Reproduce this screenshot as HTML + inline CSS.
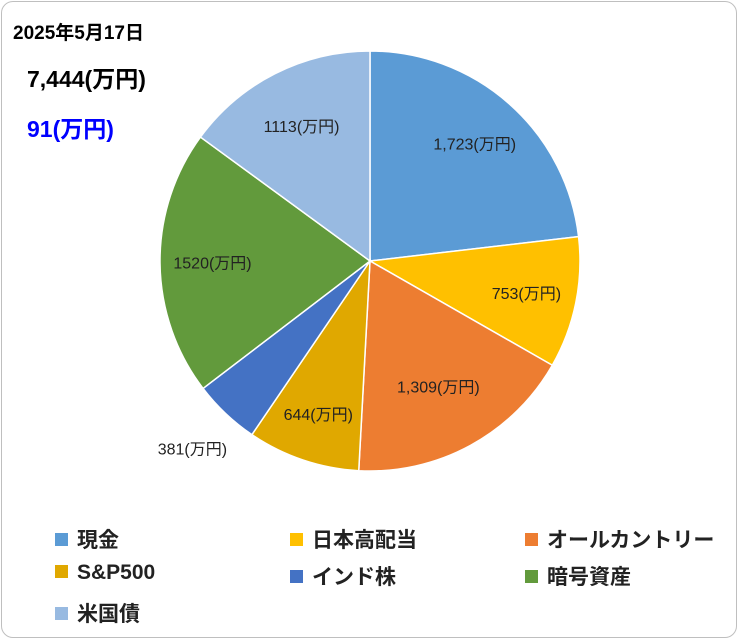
<!DOCTYPE html>
<html><head><meta charset="utf-8"><style>
body{margin:0;background:#fff;font-family:"Liberation Sans","Noto Sans CJK JP",sans-serif}
#wrap{position:relative;width:740px;height:641px}
.frame{position:absolute;left:1px;top:1px;width:736px;height:637px;border:1px solid #bfbfbf;border-radius:12px;box-sizing:border-box}
.t{position:absolute;font-weight:bold;white-space:nowrap}
.leg{position:absolute;font-size:21px;font-weight:bold;color:#222;white-space:nowrap}
.leg i{display:inline-block;width:13px;height:13px;margin-right:9px;vertical-align:1px}
</style></head><body>
<div id="wrap">
<div class="frame"></div>
<div class="t" style="left:13px;top:18px;font-size:19px">2025年5月17日</div>
<div class="t" style="left:27px;top:60px;font-size:23px">7,444(万円)</div>
<div class="t" style="left:27px;top:110px;font-size:23px;color:#0000ff">91(万円)</div>
<svg id="pie" width="740" height="641" style="position:absolute;left:0;top:0"></svg>
<div id="legend"></div>
</div>
<script>
const categories=["現金","日本高配当","オールカントリー","S&P500","インド株","暗号資産","米国債"];
const values=[1723,753,1309,644,381,1520,1113];
const valueLabels=["1,723(万円)","753(万円)","1,309(万円)","644(万円)","381(万円)","1520(万円)","1113(万円)"];
const colors=["#5B9BD5","#FFC000","#ED7D31","#E0A800","#4472C4","#629A3C","#98BAE1"];
const cx=370,cy=261,R=210;
const labelR=[0.75,0.76,0.68,0.77,1.23,0.75,0.72];
const svg=document.getElementById('pie');
const NS="http://www.w3.org/2000/svg";
const total=values.reduce((a,b)=>a+b,0);
let acc=0;
function pt(a,r){return [cx+r*Math.sin(a),cy-r*Math.cos(a)];}
values.forEach((v,i)=>{
  const a0=acc/total*2*Math.PI;acc+=v;const a1=acc/total*2*Math.PI;
  const p0=pt(a0,R),p1=pt(a1,R);
  const p=document.createElementNS(NS,'path');
  p.setAttribute('d',`M${cx},${cy}L${p0[0]},${p0[1]}A${R},${R} 0 ${a1-a0>Math.PI?1:0} 1 ${p1[0]},${p1[1]}Z`);
  p.setAttribute('fill',colors[i]);p.setAttribute('stroke','#fff');p.setAttribute('stroke-width','1.5');
  
  
  svg.appendChild(p);
  const m=(a0+a1)/2,lp=pt(m,R*labelR[i]);
  const t=document.createElementNS(NS,'text');
  t.setAttribute('x',lp[0]);t.setAttribute('y',lp[1]+6);t.setAttribute('text-anchor','middle');
  t.setAttribute('font-size','16');t.setAttribute('fill','#222');
  t.setAttribute('font-family','"Liberation Sans","Noto Sans CJK JP",sans-serif');
  t.textContent=valueLabels[i];
  
  
  svg.appendChild(t);
});
const lg=document.getElementById('legend');


categories.forEach((c,i)=>{
  const d=document.createElement('div');d.className='leg';
  d.style.left=(55+(i%3)*235)+'px';d.style.top=(524+Math.floor(i/3)*37)+'px';
  d.innerHTML='<i style="background:'+colors[i]+'"></i>';
  d.appendChild(document.createTextNode(c));
  
  
  lg.appendChild(d);
});
</script>
</body></html>
